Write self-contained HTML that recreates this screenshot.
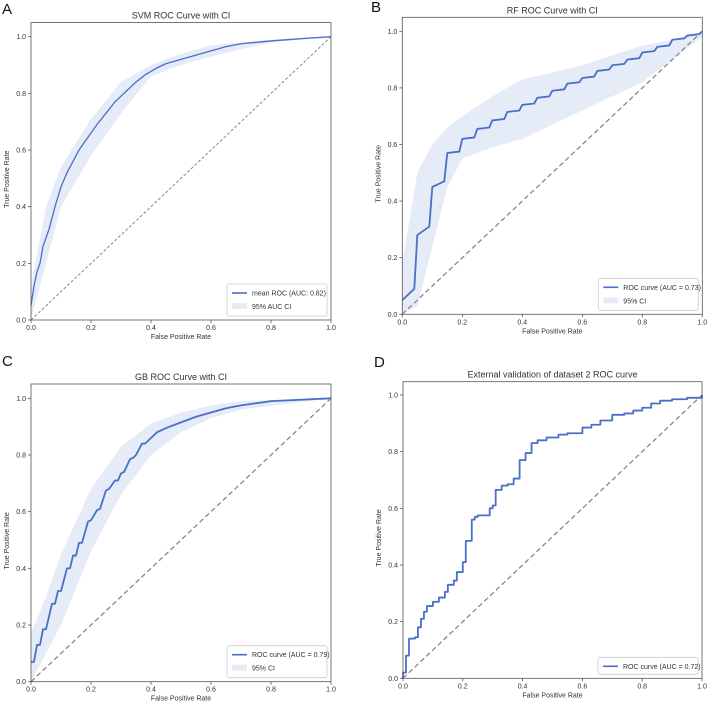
<!DOCTYPE html>
<html><head><meta charset="utf-8"><style>
body{margin:0;background:#fff;width:709px;height:704px;overflow:hidden;font-family:"Liberation Sans",sans-serif}
svg{display:block}
</style></head><body>
<svg id="fig" width="709" height="704" viewBox="0 0 709 704" xmlns="http://www.w3.org/2000/svg"></svg>
<script>
// Panel A (SVM)
const svmX=[0,0.01,0.02,0.03,0.04,0.06,0.08,0.1,0.12,0.14,0.16,0.18,0.2,0.22,0.25,0.28,0.3,0.32,0.35,0.38,0.42,0.45,0.5,0.55,0.6,0.65,0.7,0.8,0.9,1];
const svmY=[0.05,0.12,0.17,0.2,0.26,0.32,0.4,0.47,0.52,0.56,0.6,0.63,0.66,0.69,0.73,0.77,0.79,0.81,0.84,0.865,0.89,0.905,0.92,0.935,0.95,0.965,0.975,0.985,0.993,1];
const svmBandX=[0,0.05,0.1,0.2,0.3,0.4,0.5,0.6,0.8,1];
const svmUpper=[0.12,0.4,0.54,0.71,0.84,0.9,0.94,0.97,0.99,1];
const svmLower=[0,0.2,0.4,0.58,0.73,0.86,0.9,0.93,0.98,1];
// Panel B (RF)
const rfX=[0,0.04,0.05,0.09,0.1,0.14,0.15,0.19,0.2,0.24,0.25,0.29,0.3,0.34,0.35,0.39,0.4,0.44,0.45,0.49,0.5,0.54,0.55,0.59,0.6,0.64,0.65,0.69,0.7,0.74,0.75,0.79,0.8,0.84,0.85,0.89,0.9,0.94,0.95,0.99,1];
const rfY=[0.05,0.09,0.28,0.31,0.45,0.47,0.57,0.575,0.62,0.625,0.655,0.66,0.685,0.69,0.715,0.72,0.74,0.745,0.765,0.77,0.79,0.795,0.815,0.82,0.835,0.84,0.86,0.865,0.88,0.885,0.9,0.905,0.925,0.93,0.945,0.95,0.97,0.975,0.985,0.99,1];
const rfBandX=[0,0.05,0.1,0.15,0.2,0.3,0.4,0.6,0.8,0.9,1];
const rfUpper=[0.18,0.5,0.6,0.66,0.7,0.77,0.83,0.88,0.95,0.97,1];
const rfLower=[0,0.03,0.24,0.45,0.55,0.59,0.62,0.72,0.82,0.9,0.98];
// Panel C (GB)
const gbX=[0,0.01,0.02,0.03,0.04,0.05,0.07,0.08,0.09,0.1,0.12,0.13,0.14,0.15,0.16,0.17,0.19,0.2,0.22,0.23,0.25,0.26,0.28,0.29,0.3,0.31,0.33,0.34,0.35,0.37,0.38,0.4,0.42,0.45,0.5,0.55,0.6,0.65,0.7,0.8,1];
const gbY=[0.07,0.07,0.13,0.13,0.185,0.185,0.275,0.275,0.32,0.32,0.4,0.4,0.445,0.445,0.49,0.49,0.565,0.57,0.605,0.61,0.675,0.68,0.71,0.71,0.735,0.74,0.785,0.79,0.8,0.84,0.84,0.86,0.88,0.895,0.915,0.935,0.95,0.965,0.975,0.99,1];
const gbBandX=[0,0.05,0.1,0.2,0.3,0.4,0.5,0.6,0.7,1];
const gbUpper=[0.17,0.3,0.45,0.68,0.83,0.91,0.95,0.975,0.99,1];
const gbLower=[0,0.1,0.2,0.46,0.66,0.8,0.88,0.93,0.96,1];
// Panel D (external validation, step curve)
const extX=[0,0,0.01,0.01,0.02,0.02,0.04,0.05,0.06,0.07,0.08,0.1,0.12,0.14,0.15,0.17,0.18,0.2,0.21,0.23,0.24,0.25,0.29,0.3,0.31,0.33,0.35,0.37,0.39,0.41,0.43,0.45,0.48,0.52,0.55,0.6,0.63,0.66,0.7,0.74,0.77,0.8,0.83,0.86,0.9,0.95,1];
const extY=[0,0.02,0.02,0.08,0.08,0.14,0.145,0.18,0.21,0.235,0.255,0.27,0.285,0.305,0.33,0.345,0.375,0.41,0.485,0.56,0.57,0.575,0.6,0.61,0.665,0.68,0.685,0.705,0.77,0.795,0.83,0.84,0.85,0.86,0.865,0.885,0.895,0.91,0.93,0.935,0.945,0.955,0.97,0.98,0.985,0.99,1];
const ticks=[0,0.2,0.4,0.6,0.8,1.0];
const tickLabels=["0.0","0.2","0.4","0.6","0.8","1.0"];

const NS="http://www.w3.org/2000/svg";
const fig=document.getElementById('fig');
function mk(tag,attrs,parent,text){const e=document.createElementNS(NS,tag);for(const k in attrs)e.setAttribute(k,attrs[k]);if(text!==undefined)e.textContent=text;(parent||fig).appendChild(e);return e;}

const panels=[
 {id:'a',letter:'A',lx:2,ly:14,title:'SVM ROC Curve with CI',L:31,R:331,y0:320,y1:36.7,top:22.5,x:svmX,y:svmY,bx:svmBandX,bu:svmUpper,bl:svmLower,step:false,leg:['mean ROC (AUC: 0.82)','95% AUC CI'],lw:1.3},
 {id:'b',letter:'B',lx:371,ly:12,title:'RF ROC Curve with CI',L:402.3,R:702.3,y0:314.3,y1:31.3,top:17.3,x:rfX,y:rfY,bx:rfBandX,bu:rfUpper,bl:rfLower,step:false,leg:['ROC curve (AUC = 0.73)','95% CI'],lw:1.8},
 {id:'c',letter:'C',lx:2,ly:366,title:'GB ROC Curve with CI',L:31,R:331,y0:681.7,y1:398.3,top:384,x:gbX,y:gbY,bx:gbBandX,bu:gbUpper,bl:gbLower,step:false,leg:['ROC curve (AUC = 0.79)','95% CI'],lw:1.8},
 {id:'d',letter:'D',lx:374,ly:367,title:'External validation of dataset 2 ROC curve',L:403,R:702,y0:678.3,y1:395,top:381.7,x:extX,y:extY,step:true,leg:['ROC curve (AUC = 0.72)'],lw:1.8}
];

panels.forEach(p=>{
 const g=mk('g',{});
 
 
 const sx=v=>p.L+v*(p.R-p.L);
 const sy=v=>p.y0-v*(p.y0-p.y1);
 const lt=mk('text',{x:p.lx,y:p.ly,'font-size':15,fill:'#111'},g,p.letter);
 
 
 const tt=mk('text',{x:(p.L+p.R)/2,y:p.top-4,'font-size':9,fill:'#333','text-anchor':'middle'},g,p.title);
 
 
 if(p.bx){
  let d='M'+p.bx.map((x,i)=>sx(x)+','+sy(p.bu[i])).join('L');
  for(let i=p.bx.length-1;i>=0;i--)d+='L'+sx(p.bx[i])+','+sy(p.bl[i]);
  const band=mk('path',{d:d+'Z',fill:'#e6ecf7',stroke:'none'},g);
  
  
 }
 const diag=mk('line',{x1:sx(0),y1:sy(0),x2:sx(1),y2:sy(1),stroke:'#888','stroke-width':p.id==='a'?1:1.3,'stroke-dasharray':p.id==='a'?'3,2':'5,3'},g);
 
 
 let d='M'+sx(p.x[0])+','+sy(p.y[0]);
 for(let i=1;i<p.x.length;i++){
  if(p.step)d+='L'+sx(p.x[i])+','+sy(p.y[i-1]);
  d+='L'+sx(p.x[i])+','+sy(p.y[i]);
 }
 const ln=mk('path',{d:d,fill:'none',stroke:'#4a6fc9','stroke-width':p.lw,'stroke-linejoin':'round'},g);
 
 
 const fr=mk('rect',{x:p.L,y:p.top,width:p.R-p.L,height:p.y0-p.top,fill:'none',stroke:'#555','stroke-width':0.8},g);
 
 
 ticks.forEach((t,i)=>{
  mk('line',{x1:sx(t),y1:p.y0,x2:sx(t),y2:p.y0+3,stroke:'#555','stroke-width':0.8},g);
  const xl=mk('text',{x:sx(t),y:p.y0+10,'font-size':7,fill:'#333','text-anchor':'middle'},g,tickLabels[i]);
  
  
  mk('line',{x1:p.L-3,y1:sy(t),x2:p.L,y2:sy(t),stroke:'#555','stroke-width':0.8},g);
  const yl=mk('text',{x:p.L-5,y:sy(t)+2.5,'font-size':7,fill:'#333','text-anchor':'end'},g,tickLabels[i]);
  
  
 });
 const xa=mk('text',{x:(p.L+p.R)/2,y:p.y0+19,'font-size':7,fill:'#333','text-anchor':'middle'},g,'False Positive Rate');
 
 
 const yx=p.L-22,yy=(p.top+p.y0)/2+8;
 const ya=mk('text',{x:yx,y:yy,'font-size':7,fill:'#333','text-anchor':'middle',transform:'rotate(-90 '+yx+' '+yy+')'},g,'True Positive Rate');
 
 
 const n=p.leg.length, lh=n===2?32:17, lw=100;
 const lxp=p.R-lw-4, lyp=p.y0-lh-4;
 const lg=mk('g',{},g);
 
 
 mk('rect',{x:lxp,y:lyp,width:lw,height:lh,fill:'#fff',stroke:'#ccc','stroke-width':0.8,rx:2},lg);
 mk('line',{x1:lxp+5,y1:lyp+9,x2:lxp+20,y2:lyp+9,stroke:'#4a6fc9','stroke-width':1.6},lg);
 const e1=mk('text',{x:lxp+25,y:lyp+11.5,'font-size':7,fill:'#333'},lg,p.leg[0]);
 
 
 if(n===2){
  mk('rect',{x:lxp+5,y:lyp+19,width:15,height:6,fill:'#e6ecf7'},lg);
  const e2=mk('text',{x:lxp+25,y:lyp+25,'font-size':7,fill:'#333'},lg,p.leg[1]);
  
  
 }
});
</script>
</body></html>
